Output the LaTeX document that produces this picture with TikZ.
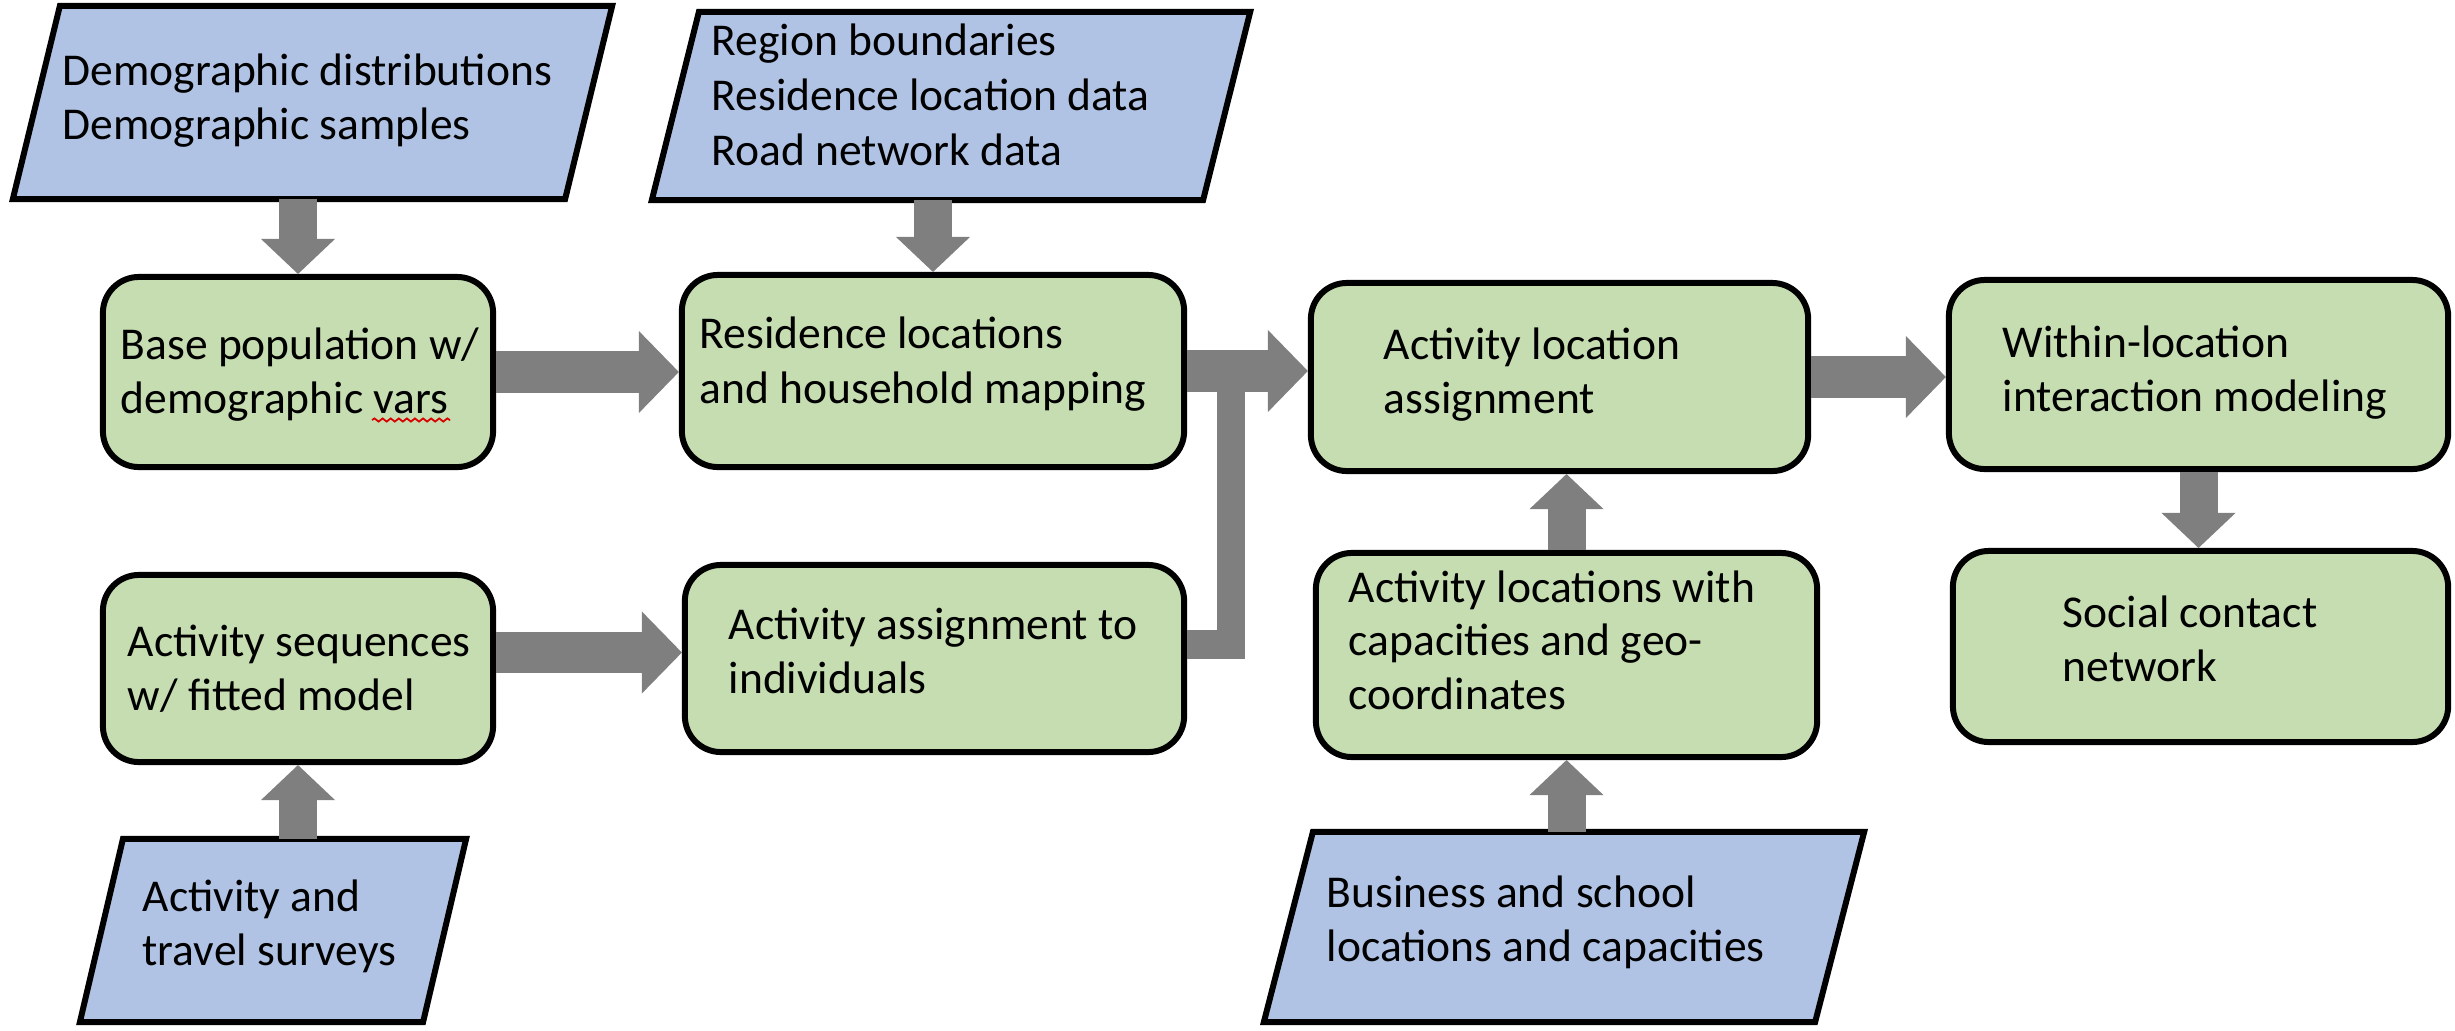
\documentclass[tikz,border=0pt]{standalone}
\usepackage{fontspec}
\setmainfont{Carlito}
\usetikzlibrary{arrows.meta,decorations.pathmorphing}

\definecolor{stepgreen}{HTML}{C5DDB0}
\definecolor{datablue}{HTML}{B0C3E4}
\definecolor{flowgray}{HTML}{7F7F7F}

\tikzset{
  stepbox/.style={draw=black, line width=1.7pt, fill=stepgreen,
    rounded corners=0.36cm, inner sep=0pt},
  dataframe/.style={inner sep=0pt, outer sep=0.85pt},
  dataface/.style={draw=black, line width=1.7pt, fill=datablue, line join=miter},
  label/.style={anchor=base west, align=left, inner sep=0pt,
    font=\fontsize{12.95pt}{15.1pt}\selectfont},
  wide/.style={font=\fontsize{12.95pt}{15.6pt}\selectfont},
  hflow/.style={draw=flowgray, line width=0.41cm,
    -{Triangle[width=0.82cm, length=0.40cm, line width=0pt]}},
  vflow/.style={draw=flowgray, line width=0.38cm,
    -{Triangle[width=0.74cm, length=0.35cm, line width=0pt]}},
  joinflow/.style={draw=flowgray, line width=0.28cm, line join=miter},
}

\begin{document}
\begin{tikzpicture}[x=0.01cm, y=-0.01cm]
\useasboundingbox (0,0) rectangle (2455,1030);

% input data: frames, then slanted faces
\node[dataframe, minimum width=5.93cm, minimum height=1.87cm] (p1) at (312.5,102.5) {};
\node[dataframe, minimum width=5.92cm, minimum height=1.82cm] (p2) at (951,106) {};
\node[dataframe, minimum width=3.80cm, minimum height=1.77cm] (p3) at (273,930.5) {};
\node[dataframe, minimum width=5.94cm, minimum height=1.84cm] (p4) at (1564,927) {};

\draw[dataface] ([xshift=0.47cm]p1.north west) -- (p1.north east)
  -- ([xshift=-0.47cm]p1.south east) -- (p1.south west) -- cycle;
\draw[dataface] ([xshift=0.47cm]p2.north west) -- (p2.north east)
  -- ([xshift=-0.47cm]p2.south east) -- (p2.south west) -- cycle;
\draw[dataface] ([xshift=0.43cm]p3.north west) -- (p3.north east)
  -- ([xshift=-0.43cm]p3.south east) -- (p3.south west) -- cycle;
\draw[dataface] ([xshift=0.49cm]p4.north west) -- (p4.north east)
  -- ([xshift=-0.49cm]p4.south east) -- (p4.south west) -- cycle;

% processing steps
\node[stepbox, minimum width=3.90cm, minimum height=1.90cm] (b1) at (298,372) {};
\node[stepbox, minimum width=5.02cm, minimum height=1.92cm] (b2) at (933,371) {};
\node[stepbox, minimum width=4.97cm, minimum height=1.88cm] (b3) at (1559.5,377) {};
\node[stepbox, minimum width=4.99cm, minimum height=1.87cm] (b4) at (934.5,658.5) {};
\node[stepbox, minimum width=3.90cm, minimum height=1.87cm] (b5) at (298,668.5) {};
\node[stepbox, minimum width=5.01cm, minimum height=2.04cm] (b6) at (1566.5,655) {};
\node[stepbox, minimum width=4.99cm, minimum height=1.89cm] (b7) at (2198.5,374.5) {};
\node[stepbox, minimum width=4.95cm, minimum height=1.91cm] (b8) at (2200.5,646.5) {};

% texts (placed by the baseline of their last line)
\node[label] (t1) at (62,139) {Demographic distributions\\Demographic samples};
\node[label, wide] (t2) at (711,165) {Region boundaries\\Residence location data\\Road network data};
\node[label] (t3) at (142,965) {Activity and\\travel surveys};
\node[label] (t4) at (1326,961) {Business and school\\locations and capacities};
\node[label] (s1) at (120,413) {Base population w/\\demographic vars};
\node[label, wide] (s2) at (699,403) {Residence locations\\and household mapping};
\node[label] (s3) at (1383,413) {Activity location\\assignment};
\node[label] (s4) at (728,693) {Activity assignment to\\individuals};
\node[label] (s5) at (127,710) {Activity sequences\\w/ fitted model};
\node[label] (s6) at (1348,709) {Activity locations with\\capacities and geo-\\coordinates};
\node[label] (s7) at (2002,411) {Within-location\\interaction modeling};
\node[label] (s8) at (2062,681) {Social contact\\network};

% spelling mark under "vars"
\draw[red!85!black, line width=0.5pt, decorate,
  decoration={snake, amplitude=0.45pt, segment length=2.3pt}] (372,420) -- (450,420);

% merging branch from the activity assignment
\draw[joinflow] ([yshift=0.14cm]b4.east) -| ([xshift=0.44cm]b2.east);

% horizontal flow
\coordinate (h4end) at ([yshift=0.06cm]b4.west);
\draw[hflow] (b1.east) -- (b1.east -| b2.west);
\draw[hflow] (b2.east) -- (b2.east -| b3.west);
\draw[hflow] (b3.east) -- (b3.east -| b7.west);
\draw[hflow] (b5.east |- h4end) -- (h4end);

% vertical flow
\draw[vflow] (p1.south -| b1.north) -- (b1.north);
\draw[vflow] (p2.south -| b2.north) -- (b2.north);
\draw[vflow] (p3.north -| b5.south) -- (b5.south);
\draw[vflow] (b6.north) -- (b6.north |- b3.south);
\draw[vflow] (p4.north -| b6.south) -- (b6.south);
\draw[vflow] (b7.south) -- (b7.south |- b8.north);
\end{tikzpicture}
\end{document}
